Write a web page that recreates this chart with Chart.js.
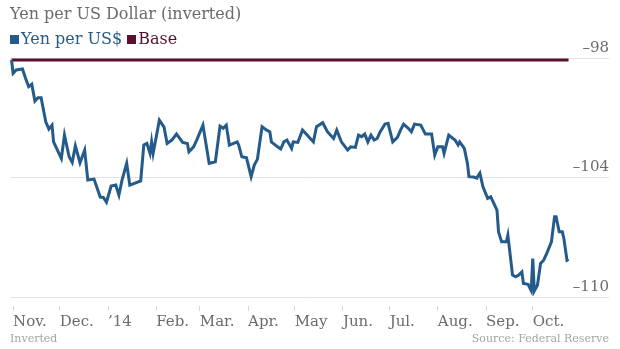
<!DOCTYPE html>
<html>
<head>
<meta charset="utf-8">
<script src="https://cdn.jsdelivr.net/npm/chart.js@4"></script>
<style>
  body { margin: 0; background: #fff; }
  #wrap { position: relative; width: 620px; height: 349px; font-family: 'DejaVu Serif', serif; }
  #title { position: absolute; left: 10px; top: 4px; font-size: 16px; color: #6b6b6b; white-space: nowrap; }
  #legend { position: absolute; left: 10px; top: 29px; font-size: 16px; white-space: nowrap; }
  #legend span.sq { display: inline-block; width: 9px; height: 9px; margin-right: 2px; }
  #footL { position: absolute; left: 10px; top: 332px; font-size: 11px; color: #a5a5a5; }
  #footR { position: absolute; right: 11px; top: 332px; font-size: 11px; color: #a5a5a5; }
  canvas { position: absolute; left: 0; top: 0; }
</style>
</head>
<body>
<div id="wrap">
  <canvas id="chart" width="620" height="349"></canvas>
  <div id="title">Yen per US Dollar (inverted)</div>
  <div id="legend">
    <span class="sq" style="background:#245b8b"></span><span style="color:#245b8b">Yen per US$</span>
    <span class="sq" style="background:#5b0f2f"></span><span style="color:#5b0f2f">Base</span>
  </div>
  <div id="footL">Inverted</div>
  <div id="footR">Source: Federal Reserve</div>
</div>
<script>
// days counted from 1 Nov 2013
const days = [
  -1, 0, 2, 6, 8, 10, 12, 14, 16, 18,
  21, 23, 25, 26, 31, 33, 36, 38, 40, 43,
  46, 48, 52, 56, 58, 60, 63, 66, 68, 70,
  73, 75, 82, 84, 86, 88, 89, 90, 94, 97,
  99, 102, 105, 109, 112, 113, 116, 118, 122, 126,
  130, 133, 135, 137, 139, 144, 145, 147, 150, 153,
  155, 157, 160, 163, 165, 166, 170, 172, 174, 176,
  179, 180, 183, 186, 189, 191, 193, 195, 199, 202,
  206, 208, 211, 215, 217, 220, 222, 224, 226, 228,
  230, 232, 234, 236, 239, 241, 244, 247, 249, 251,
  254, 256, 258, 262, 265, 269, 271, 273, 276, 277,
  280, 284, 286, 287, 290, 292, 293, 296, 298, 300,
  302, 305, 307, 308, 311, 312, 314, 317, 318, 321,
  323, 325, 327, 328, 331, 333, 334, 335, 337, 339,
  341, 343, 346, 348, 349, 351, 353, 354, 356, 357
];
const yen = [
  98.10, 98.77, 98.60, 98.55, 99.02, 99.44, 99.32, 100.16, 99.99, 99.99,
  101.20, 101.57, 101.37, 102.21, 103.04, 101.87, 102.96, 103.24, 102.41, 103.26,
  102.62, 104.13, 104.08, 104.98, 105.00, 105.24, 104.43, 104.38, 104.88, 104.13,
  103.29, 104.38, 104.17, 102.37, 102.29, 102.79, 102.21, 102.79, 101.12, 101.47,
  102.29, 102.12, 101.82, 102.24, 102.29, 102.71, 102.46, 102.12, 101.37, 103.29,
  103.21, 101.42, 101.53, 101.37, 102.37, 102.21, 102.37, 102.96, 103.01, 103.96,
  103.38, 103.09, 101.45, 101.62, 101.70, 102.21, 102.46, 102.57, 102.21, 102.12,
  102.54, 102.21, 102.24, 101.62, 101.87, 102.04, 102.21, 101.45, 101.25, 101.70,
  102.04, 101.62, 102.21, 102.62, 102.46, 102.49, 101.87, 101.95, 101.82, 102.21,
  101.87, 102.12, 102.04, 101.70, 101.32, 101.28, 102.21, 101.98, 101.62, 101.32,
  101.53, 101.70, 101.32, 101.37, 101.82, 101.82, 102.87, 102.46, 102.46, 102.79,
  101.87, 102.12, 102.37, 102.21, 102.54, 103.29, 103.96, 103.98, 104.03, 103.78,
  104.47, 105.05, 104.97, 105.14, 105.64, 106.73, 107.23, 107.23, 106.89, 108.90,
  108.99, 108.90, 108.74, 109.32, 109.36, 109.68, 108.07, 109.69, 109.41, 108.32,
  108.15, 107.81, 107.23, 105.97, 105.97, 106.73, 106.73, 107.06, 108.15, 108.10
];
const base = yen[0];
const monthDays = [0, 30, 61, 92, 120, 151, 181, 212, 242, 273, 304, 334];
const monthLabels = ['Nov.', 'Dec.', '\u201914', 'Feb.', 'Mar.', 'Apr.', 'May', 'Jun.', 'Jul.', 'Aug.', 'Sep.', 'Oct.'];
const yTicks = [98, 104, 110];

const font = { family: 'DejaVu Serif', size: 15 };

new Chart(document.getElementById('chart').getContext('2d'), {
  type: 'line',
  data: {
    datasets: [{
      label: 'Yen per US$',
      data: days.map((d, i) => ({ x: d, y: yen[i] })),
      borderColor: '#245b8b',
      borderWidth: 3,
      pointRadius: 0,
      tension: 0,
      order: 1
    }, {
      label: 'Base',
      data: [{ x: days[0], y: base }, { x: days[days.length - 1], y: base }],
      borderColor: '#5b0f2f',
      borderWidth: 3,
      pointRadius: 0,
      order: 2
    }]
  },
  options: {
    responsive: false,
    animation: false,
    layout: { padding: { left: 10, top: 58, right: 11, bottom: 0 } },
    plugins: { legend: { display: false }, tooltip: { enabled: false } },
    scales: {
      x: {
        type: 'linear',
        min: -2,
        max: 383,
        afterBuildTicks: s => { s.ticks = monthDays.map(v => ({ value: v })); },
        afterFit: s => { s.height = 52; s.paddingLeft = 0; s.paddingRight = 0; },
        border: { display: false },
        grid: {
          drawOnChartArea: false,
          tickLength: 14,
          tickBorderDash: [0, 9, 5, 40],
          tickColor: '#d8d8d8',
          tickWidth: 1
        },
        ticks: {
          autoSkip: false,
          maxRotation: 0,
          align: 'start',
          padding: 2,
          color: '#6b6b6b',
          font: font,
          callback: (v, i) => monthLabels[i]
        }
      },
      y: {
        position: 'right',
        reverse: true,
        min: 98,
        max: 110,
        afterBuildTicks: s => { s.ticks = yTicks.map(v => ({ value: v })); },
        afterFit: s => { s.width = 0; s.paddingTop = 0; s.paddingBottom = 0; },
        border: { display: false },
        grid: { color: '#e3e3e3', drawTicks: false },
        ticks: {
          mirror: true,
          padding: 0,
          labelOffset: -10,
          color: '#6b6b6b',
          font: font,
          callback: v => '\u2013' + v
        }
      }
    }
  }
});
</script>
</body>
</html>
